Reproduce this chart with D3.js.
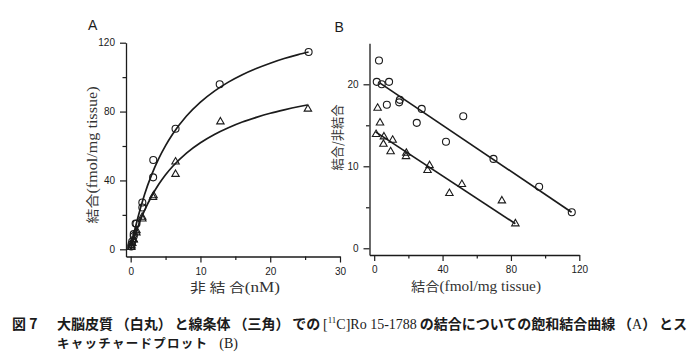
<!DOCTYPE html>
<html><head><meta charset="utf-8">
<script src="https://cdn.jsdelivr.net/npm/d3@7"></script>
<style>body{margin:0;background:#fff}</style>
</head><body>
<svg id="c" width="700" height="355"></svg>
<script>
// ---------- Panel A: saturation binding (free nM vs bound fmol/mg tissue) ----------
const aCircleFree  = [0.08, 0.13, 0.22, 0.44, 0.44, 0.71, 0.83, 1.67, 1.67, 3.24, 3.22, 6.43, 12.76, 25.5];
const aCircleBound = [1.6, 2.9, 4.5, 8.8, 7.6, 15.0, 14.8, 27.2, 24.3, 51.9, 41.8, 70.0, 95.9, 114.6];
const aTriFree     = [0.09, 0.12, 0.23, 0.42, 0.43, 0.82, 0.83, 1.65, 1.67, 3.2, 3.28, 6.43, 6.43, 12.86, 25.4];
const aTriBound    = [1.2, 2.1, 3.5, 5.7, 5.5, 9.6, 10.9, 18.7, 17.7, 30.2, 31.2, 50.8, 43.6, 74.1, 81.5];
// fitted curves
const aCircleFitFree  = [0, 0.5, 1, 2, 3, 4, 5, 6, 8, 10, 12, 14, 16, 18, 20, 22, 24, 25.5];
const aCircleFitBound = [0, 9.5, 17.9, 32, 43.2, 52.5, 60.2, 66.8, 77.4, 85.5, 91.9, 97.1, 101.4, 105, 108.1, 110.8, 113.1, 114.6];
const aTriFitFree     = [0, 0.5, 1, 2, 3, 4, 5, 6, 8, 10, 12, 14, 16, 18, 20, 22, 24, 25.3];
const aTriFitBound    = [0, 6.7, 12.7, 22.7, 30.8, 37.6, 43.3, 48.1, 55.9, 61.9, 66.7, 70.6, 73.9, 76.6, 79, 81, 82.8, 83.8];
const aXTicks = [0, 10, 20, 30];
const aXMinor = [5, 15, 25];
const aYTicks = [0, 40, 80, 120];
const aYMinor = [20, 60, 100];

// ---------- Panel B: Scatchard plot (bound vs bound/free) ----------
const bCircleBound = [2.8, 1.5, 4.4, 8.7, 7.4, 14.6, 15.0, 27.8, 24.9, 52.1, 42.0, 69.8, 96.5, 115.6];
const bCircleRatio = [22.9, 20.3, 20.0, 20.3, 17.5, 17.8, 18.1, 17.0, 15.3, 16.1, 13.0, 10.9, 7.5, 4.4];
const bTriBound    = [2.0, 3.4, 1.1, 5.7, 5.4, 10.8, 9.6, 18.8, 18.6, 31.2, 32.4, 44.0, 51.3, 74.7, 82.6];
const bTriRatio    = [17.1, 15.3, 13.9, 13.6, 12.7, 13.2, 11.8, 11.6, 11.2, 9.5, 10.1, 6.7, 7.8, 5.8, 3.0];
const bCircleLineBound = [3.0, 115.5];
const bCircleLineRatio = [20.2, 4.4];
const bTriLineBound    = [0.8, 82.6];
const bTriLineRatio    = [14.2, 3.0];
const bXTicks = [0, 40, 80, 120];
const bXMinor = [20, 60, 100];
const bYTicks = [0, 10, 20];
const bYMinor = [5, 15];

// ---------- Text ----------
const panelLabels = ["A", "B"];
const aXLabel = ["非 結 合", "(nM)"];
const aYLabel = ["結合", "(fmol/mg tissue)"];
const bXLabel = ["結合", "(fmol/mg tissue)"];
const bYLabel = "結合/非結合";
const captionNo = "図 7";
// each inner array is one text; each pair is [string, style]
const caption1 = [
  [["大脳皮質", "cjk"]], [["（白丸）", "cjk"]], [["と線条体", "cjk"]], [["（三角）", "cjk"]], [["での", "cjk"]],
  [["[", "ser"], ["11", "sup"], ["C]Ro 15-1788", "base"]],
  [["の結合についての飽和結合曲線", "cjk"]],
  [["（", "cjk"], ["A", "ser"], ["）", "cjk"]], [["とス", "cjk"]]
];
const caption2 = [[["キャッチャードプロット", "cjk"]], [["(B)", "ser"]]];
const caption2Stretch = [150, null];

const INK = "#1b1b1b";
const CJK = "'Noto Sans CJK JP', sans-serif";
const SERIF = "'Liberation Serif', 'DejaVu Serif', serif";
const SANS = "'Liberation Sans', Arial, sans-serif";

const svg = d3.select("#c");

// scales
const xA = d3.scaleLinear().domain([-0.67, 30]).range([126, 340]);
const yA = d3.scaleLinear().domain([-4.18, 120]).range([256.5, 42.7]);
const xB = d3.scaleLinear().domain([-2.75, 120]).range([369.5, 579.3]);
const yB = d3.scaleLinear().domain([-0.82, 25]).range([255, 43.3]);

function styleAxis(g, showDomain) {
  g.select(".domain").attr("stroke", INK).attr("stroke-width", 1.3).style("display", showDomain ? null : "none");
  g.selectAll(".tick line").attr("stroke", INK).attr("stroke-width", 1.2);
  g.selectAll(".tick text").attr("fill", INK).style("font-family", SANS).style("font-size", "10px");
}
function axes(xs, ys, xT, xM, yT, yM, xAxisY, yAxisX) {
  const gx = svg.append("g").attr("transform", `translate(0,${xAxisY})`)
    .call(d3.axisBottom(xs).tickValues(xT).tickSize(6).tickSizeOuter(0).tickPadding(5).tickFormat(d3.format("d")));
  styleAxis(gx, true);
  const gxm = svg.append("g").attr("transform", `translate(0,${xAxisY})`)
    .call(d3.axisBottom(xs).tickValues(xM).tickSize(3.5).tickSizeOuter(0).tickFormat(""));
  styleAxis(gxm, false);
  const gy = svg.append("g").attr("transform", `translate(${yAxisX},0)`)
    .call(d3.axisLeft(ys).tickValues(yT).tickSize(6).tickSizeOuter(0).tickPadding(5).tickFormat(d3.format("d")));
  styleAxis(gy, true);
  const gym = svg.append("g").attr("transform", `translate(${yAxisX},0)`)
    .call(d3.axisLeft(ys).tickValues(yM).tickSize(3.5).tickSizeOuter(0).tickFormat(""));
  styleAxis(gym, false);
}
axes(xA, yA, aXTicks, aXMinor, aYTicks, aYMinor, yA.range()[0], xA.range()[0]);
axes(xB, yB, bXTicks, bXMinor, bYTicks, bYMinor, yB.range()[0], xB.range()[0]);

// lines
const lineA = d3.line().x(d => xA(d[0])).y(d => yA(d[1])).curve(d3.curveMonotoneX);
const lineB = d3.line().x(d => xB(d[0])).y(d => yB(d[1]));
const zip = (a, b) => a.map((v, i) => [v, b[i]]);
[[aCircleFitFree, aCircleFitBound], [aTriFitFree, aTriFitBound]].forEach(([fx, fy]) =>
  svg.append("path").attr("d", lineA(zip(fx, fy))).attr("fill", "none").attr("stroke", INK).attr("stroke-width", 1.7));
[[bCircleLineBound, bCircleLineRatio], [bTriLineBound, bTriLineRatio]].forEach(([fx, fy]) =>
  svg.append("path").attr("d", lineB(zip(fx, fy))).attr("fill", "none").attr("stroke", INK).attr("stroke-width", 1.7));

// markers
function circles(xs, ys, dx, dy) {
  svg.append("g").selectAll("circle").data(zip(dx, dy)).join("circle")
    .attr("cx", d => xs(d[0])).attr("cy", d => ys(d[1])).attr("r", 3.5)
    .attr("fill", "none").attr("stroke", INK).attr("stroke-width", 1.1);
}
const tri = d3.symbol().type(d3.symbolTriangle).size(24);
function triangles(xs, ys, dx, dy) {
  svg.append("g").selectAll("path").data(zip(dx, dy)).join("path")
    .attr("d", tri).attr("transform", d => `translate(${xs(d[0])},${ys(d[1])})`)
    .attr("fill", "none").attr("stroke", INK).attr("stroke-width", 1.1);
}
circles(xA, yA, aCircleFree, aCircleBound);
triangles(xA, yA, aTriFree, aTriBound);
circles(xB, yB, bCircleBound, bCircleRatio);
triangles(xB, yB, bTriBound, bTriRatio);

// panel letters
svg.append("text").attr("x", 88).attr("y", 30).text(panelLabels[0])
  .style("font-family", SANS).style("font-size", "14px").attr("fill", INK);
svg.append("text").attr("x", 334.5).attr("y", 31.5).text(panelLabels[1])
  .style("font-family", SANS).style("font-size", "14px").attr("fill", INK);

// axis labels
function mixLabel(g, parts, len) {
  const t = g.append("text").attr("text-anchor", "middle").attr("fill", "#333")
    .attr("textLength", len).attr("lengthAdjust", "spacingAndGlyphs").style("font-size", "13px");
  t.append("tspan").text(parts[0]).style("font-family", CJK);
  t.append("tspan").text(parts[1]).style("font-family", SERIF).style("font-size", "14px");
  return t;
}
mixLabel(svg.append("g").attr("transform", "translate(235,292)"), aXLabel, 90);
mixLabel(svg.append("g").attr("transform", "translate(476,291)"), bXLabel, 130);
mixLabel(svg.append("g").attr("transform", "translate(97,155) rotate(-90)"), aYLabel, 137);
svg.append("g").attr("transform", "translate(342,137.5) rotate(-90)")
  .append("text").attr("text-anchor", "middle").attr("fill", "#333")
  .attr("textLength", 66).attr("lengthAdjust", "spacingAndGlyphs")
  .style("font-family", CJK).style("font-size", "13px").text(bYLabel);

// caption: each segment is its own text, spread evenly over the measured width
function segText(parts, y, size) {
  const t = svg.append("text").attr("y", y).attr("fill", INK)
    .style("font-family", CJK).style("font-size", size + "px").style("font-weight", "700");
  parts.forEach(([s, k]) => {
    const sp = t.append("tspan").text(s);
    if (k === "ser") sp.style("font-family", SERIF).style("font-size", "14px").style("font-weight", "400");
    if (k === "sup") sp.style("font-family", SERIF).style("font-size", "9px").style("font-weight", "400").attr("dy", -6);
    if (k === "base") sp.style("font-family", SERIF).style("font-size", "14px").style("font-weight", "400").attr("dy", 6);
  });
  return t;
}
function capLine(segs, x0, x1, y, size, stretch) {
  const nodes = segs.map(p => segText(p, y, size));
  const widths = nodes.map((n, i) => {
    const s = stretch && stretch[i];
    if (s) { n.attr("textLength", s).attr("lengthAdjust", "spacing"); return s; }
    return n.node().getComputedTextLength();
  });
  const gap = (x1 - x0 - d3.sum(widths)) / (segs.length - 1);
  let x = x0;
  nodes.forEach((n, i) => { n.attr("x", x); x += widths[i] + gap; });
}
svg.append("text").attr("x", 12).attr("y", 328.5).attr("fill", INK)
  .style("font-family", CJK).style("font-size", "14px").style("font-weight", "700").text(captionNo);
capLine(caption1, 57, 687, 328.5, 14);
capLine(caption2, 57, 238, 347.5, 12.5, caption2Stretch);
</script>
</body></html>
